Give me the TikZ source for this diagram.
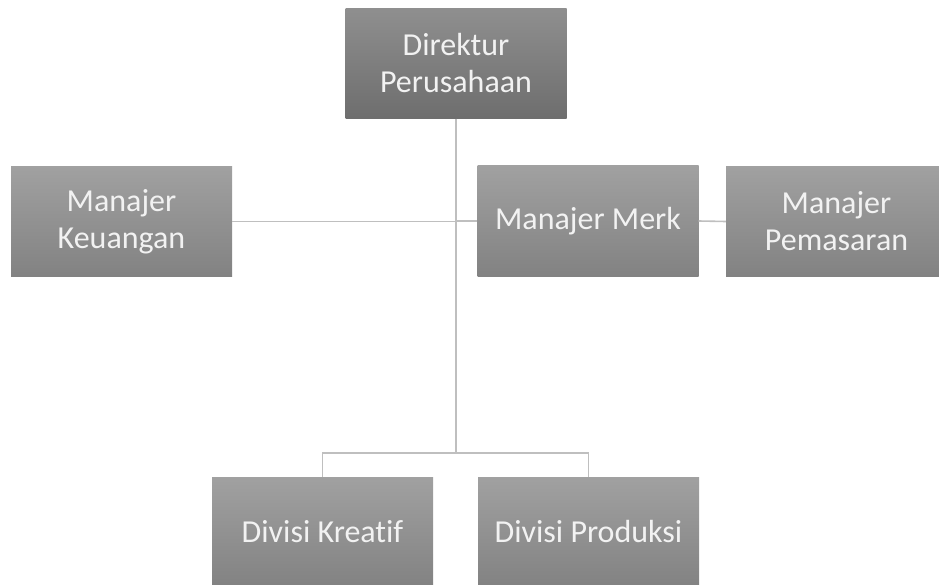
\documentclass[tikz,border=0pt]{standalone}
\usepackage{fontspec}
\setmainfont[Ligatures=NoCommon]{Carlito}
\usetikzlibrary{calc, positioning}
\tikzstyle{box} = [rectangle, minimum width=221pt, minimum height=110pt, top color=black!37, bottom color=black!49, draw=none, text=white!95!black, align=center, font=\fontsize{32}{37}\selectfont]
\tikzstyle{head} = [box, top color=black!44, bottom color=black!57]
\tikzstyle{line} = [draw=black!25, line width=1.6pt]

\begin{document}
\begin{tikzpicture}[x=1pt, y=-1pt]
	\useasboundingbox (0,0) rectangle (939,585);
	\node (Direktur) [head] at (456,63.5) {Direktur\\Perusahaan};
	\node (Keuangan) [box] at (121.5,221.5) {Manajer\\Keuangan};
	\node (Merk) [box] at (588,221) {Manajer Merk};
	\node (Pemasaran) [box] at (836.5,221.5) {Manajer\\Pemasaran};
	\node (Kreatif) [box] at (322.5,532) {Divisi Kreatif};
	\node (Produksi) [box] at (588.5,532) {Divisi Produksi};
	\coordinate (Bus) at (456,453);
	\draw [line] (Direktur.south) -- (Bus);
	\draw [line] (Keuangan.east) -- (Keuangan.east -| Bus);
	\draw [line] (Merk.west) -- (Merk.west -| Bus);
	\draw [line] (Merk.east) -- (Pemasaran.west);
	\draw [line] (Kreatif.north) |- (Bus) -| (Produksi.north);
\end{tikzpicture}
\end{document}
